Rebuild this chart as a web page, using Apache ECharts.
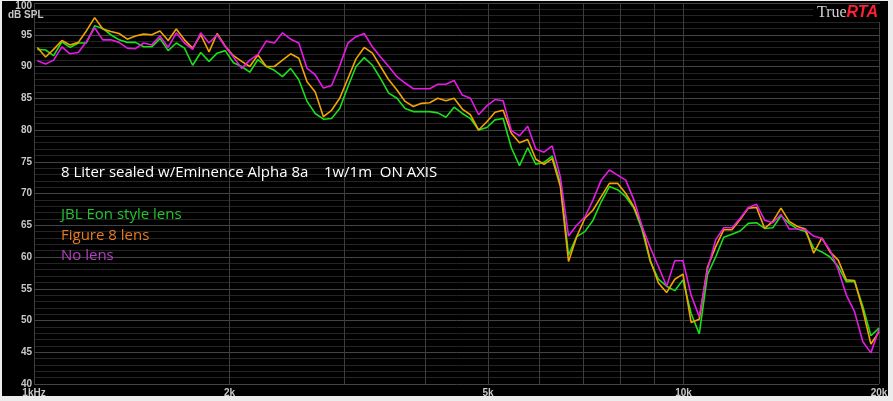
<!DOCTYPE html>
<html>
<head>
<meta charset="utf-8">
<script src="https://cdn.jsdelivr.net/npm/echarts@6/dist/echarts.min.js"></script>
<style>
html,body{margin:0;padding:0;background:#ececec;}
#frame{position:absolute;left:2px;top:1px;width:886px;height:395px;background:#000;}
#chart{position:absolute;left:0;top:0;width:893px;height:401px;}
</style>
</head>
<body>
<div id="frame"></div>
<div id="chart"></div>
<script>
// Frequencies (Hz), 1/24-octave measurement points
const freqs = [
  1012,1042,1072,1104,1136,1170,1204,1240,1276,1313,1352,1392,1433,1475,1518,1563,1609,1656,1705,1755,1806,1860,1914,1970,
  2028,2088,2149,2212,2278,2345,2413,2484,2557,2633,2710,2790,2872,2956,3043,3132,3224,3319,3417,3517,3621,3727,3837,3949,
  4066,4185,4308,4434,4565,4699,4837,4980,5126,5276,5432,5591,5756,5925,6099,6278,6463,6653,6848,7050,7257,7470,7690,7916,
  8149,8388,8635,8888,9150,9419,9696,9981,10274,10576,10887,11207,11536,11875,12225,12584,12954,13335,13727,14130,14545,14973,15413,15866,
  16333,16812,17307,17815,18339,18879,19433,20000
];

// dB SPL per series
const jblEonLens = [
  92.7,92.6,91.7,93.9,93.0,93.7,93.7,96.4,96.0,95.0,94.2,93.8,93.8,93.1,93.1,94.4,92.5,93.7,92.9,90.2,92.2,90.8,92.1,92.5,
  90.6,90.0,89.1,91.1,90.0,89.4,88.4,89.7,87.9,84.5,82.6,81.7,81.8,83.4,86.8,90.0,91.4,90.2,88.1,85.8,85.0,83.4,82.9,82.9,
  82.9,82.7,82.0,83.6,82.6,81.8,80.0,80.4,81.6,81.8,77.2,74.4,77.2,74.6,74.9,75.9,71.6,60.3,63.2,64.0,65.8,68.7,71.1,70.6,
  69.5,67.7,64.3,59.3,56.5,55.4,54.7,56.4,51.1,47.9,57.2,60.0,63.1,63.6,64.1,65.3,65.4,64.5,64.6,66.5,65.3,64.4,64.0,61.4,
  60.8,60.0,58.5,56.1,56.1,52.3,47.6,48.8
];
const figure8Lens = [
  93.0,91.5,92.7,94.1,93.4,93.8,95.6,97.7,95.9,95.5,95.2,94.3,94.8,95.1,95.0,95.6,94.1,95.9,94.2,92.9,95.0,92.3,95.2,93.2,
  91.7,90.8,90.0,91.8,90.0,90.0,91.0,92.0,91.3,87.6,86.0,82.1,83.1,85.0,88.1,91.2,93.0,92.1,90.0,87.9,86.3,84.5,83.7,84.2,
  84.3,85.0,84.6,85.0,83.3,82.4,80.0,81.3,82.8,83.1,79.5,78.0,78.5,75.4,74.6,75.5,71.1,59.3,63.2,66.1,67.4,69.5,71.6,71.6,
  70.0,67.9,64.8,59.5,55.9,54.4,56.5,57.3,49.7,50.2,58.4,61.6,64.3,64.3,65.9,67.7,67.8,64.5,65.6,67.7,65.6,64.8,64.4,60.6,
  63.0,60.8,59.5,56.4,56.3,51.7,46.3,48.2
];
const noLens = [
  90.9,90.4,91.0,93.1,92.0,92.2,93.9,96.1,94.2,94.2,93.8,92.9,92.8,93.7,93.4,94.8,93.0,95.3,93.7,92.7,95.3,93.7,95.0,93.1,
  91.5,89.7,91.0,91.9,94.0,93.7,95.3,94.3,93.7,89.7,88.7,86.6,87.0,90.1,93.7,94.7,95.2,93.1,91.5,90.0,88.4,87.4,86.5,86.5,
  86.5,87.2,87.2,87.8,85.5,85.0,82.4,83.8,84.8,84.6,79.9,79.1,80.6,77.0,76.5,77.5,72.6,63.3,65.0,66.3,69.0,72.1,73.7,72.9,
  72.1,69.0,64.8,61.5,58.5,55.4,59.4,59.4,54.0,50.6,58.0,62.7,64.6,64.6,66.1,67.8,68.3,65.8,65.4,66.7,64.4,64.4,64.3,63.3,
  62.9,61.1,58.0,54.0,51.4,46.7,44.9,48.6
];

const seriesNames = ['JBL Eon style lens', 'Figure 8 lens', 'No lens'];
const xGridValues = [1000, 2000, 3000, 4000, 5000, 6000, 7000, 8000, 9000, 10000, 20000];
const xLabelValues = [1000, 2000, 5000, 10000, 20000];
const xLabelTexts = ['1kHz', '2k', '5k', '10k', '20k'];
const titleText = '8 Liter sealed w/Eminence Alpha 8a    1w/1m  ON AXIS';

const lineColors = ['#19e019', '#f2a400', '#e619e6'];
const textColors = ['#22c42e', '#e8781e', '#b440c4'];

const pairs = arr => freqs.map((f, i) => [f, arr[i]]);

const chart = echarts.init(document.getElementById('chart'), null, {renderer: 'canvas'});
const labelFont = {color: '#c8c8c8', fontSize: 10, fontWeight: 'bold', fontFamily: '"Liberation Sans Narrow", "Liberation Sans", Arial, sans-serif'};
const bodyFont = '"Open Sans", "Noto Sans", sans-serif';

chart.setOption({
  backgroundColor: 'transparent',
  animation: false,
  title: {
    text: titleText,
    left: 61, top: 164, padding: 0,
    textStyle: {color: '#ffffff', fontSize: 15, fontWeight: 'normal', fontFamily: bodyFont, lineHeight: 18}
  },
  legend: {
    orient: 'vertical', left: 56, top: 207, padding: 0,
    icon: 'none', itemWidth: 0, itemHeight: 16, itemGap: 5,
    selectedMode: false,
    data: seriesNames.map((n, i) => ({name: n, textStyle: {color: textColors[i]}})),
    textStyle: {fontSize: 15, fontFamily: bodyFont}
  },
  grid: {left: 34, right: 14, top: 3, bottom: 17, containLabel: false},
  xAxis: {
    type: 'log', logBase: 10, min: 1000, max: 20000,
    axisLine: {show: false},
    axisTick: {show: false, customValues: xGridValues},
    splitLine: {show: true, lineStyle: {color: '#3c3c3c', width: 1}},
    axisLabel: Object.assign({
      customValues: xLabelValues,
      margin: 4,
      formatter: v => { const i = xLabelValues.indexOf(Math.round(v)); return i >= 0 ? xLabelTexts[i] : ''; }
    }, labelFont)
  },
  yAxis: {
    type: 'value', min: 40, max: 100, interval: 5,
    axisLine: {show: false},
    axisTick: {show: false},
    minorTick: {show: false, splitNumber: 5},
    splitLine: {show: true, lineStyle: {color: '#444444', width: 1}},
    minorSplitLine: {show: true, lineStyle: {color: '#252525', width: 1}},
    axisLabel: Object.assign({
      margin: 2,
      formatter: v => v === 100 ? '{t|100}' : String(v),
      rich: {t: {padding: [7, 0, 0, 0], color: '#c8c8c8', fontSize: 10, fontWeight: 'bold', fontFamily: '"Liberation Sans Narrow", "Liberation Sans", Arial, sans-serif'}}
    }, labelFont)
  },
  graphic: [
    {type: 'text', left: 8, top: 10, z: 10, style: {text: 'dB SPL', fill: '#c8c8c8', font: 'bold 10px "Liberation Sans Narrow", "Liberation Sans", Arial, sans-serif'}},
    {type: 'text', right: 13, top: 4, z: 10, style: {
      text: '{a|True}{b|RTA}', backgroundColor: '#000', padding: [1, 2, 1, 4],
      rich: {
        a: {fill: '#cfcfcf', font: '16px "Liberation Serif", "DejaVu Serif", serif'},
        b: {fill: '#ff1e32', font: 'italic bold 16px "Liberation Sans", Arial, sans-serif'}
      }
    }}
  ],
  series: [
    {name: seriesNames[0], type: 'line', data: pairs(jblEonLens), showSymbol: false, lineStyle: {color: lineColors[0], width: 1.6}, itemStyle: {color: lineColors[0]}, z: 2},
    {name: seriesNames[1], type: 'line', data: pairs(figure8Lens), showSymbol: false, lineStyle: {color: lineColors[1], width: 1.6}, itemStyle: {color: lineColors[1]}, z: 3},
    {name: seriesNames[2], type: 'line', data: pairs(noLens), showSymbol: false, lineStyle: {color: lineColors[2], width: 1.6}, itemStyle: {color: lineColors[2]}, z: 4}
  ]
});
</script>
</body>
</html>
